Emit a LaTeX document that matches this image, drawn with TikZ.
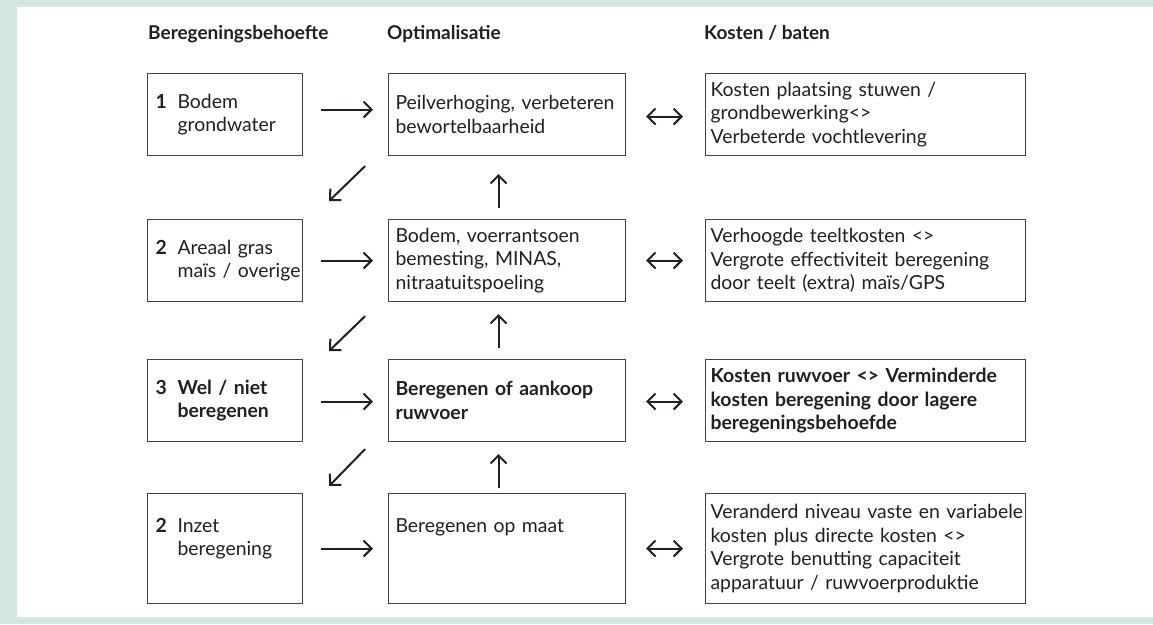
\documentclass[tikz,border=0pt]{standalone}
\usepackage{fontspec}
\setmainfont{Lato}
\usetikzlibrary{arrows.meta}
\definecolor{bordergreen}{RGB}{212,232,224}
\definecolor{ink}{RGB}{35,31,32}
\newcommand{\diafont}{\fontsize{19.4}{23.5}\selectfont}
\newcommand{\headfont}{\fontsize{19}{23.5}\selectfont\bfseries}
\newcommand{\numbox}[1]{\makebox[22pt][l]{\textbf{#1}}}
\begin{document}
\begin{tikzpicture}[x=1pt,y=-1pt,
  box/.style={draw=ink!85, line width=1.1pt, inner xsep=7pt, inner ysep=0pt,
    align=left, anchor=north west, font=\diafont, text=ink},
  lbox/.style={box, minimum width=155pt, minimum height=82pt, text width=139pt, inner xsep=8pt},
  mbox/.style={box, minimum width=237pt, minimum height=82pt, text width=223pt},
  rbox/.style={box, minimum width=320pt, minimum height=82pt, text width=310pt, inner xsep=5pt},
  head/.style={font=\headfont, text=ink, anchor=base west, inner sep=0pt},
  arr/.style={line width=2pt, draw=ink, -{Straight Barb[length=8pt,width=16pt]}},
  darr/.style={line width=2pt, draw=ink, {Straight Barb[length=8pt,width=16pt]}-{Straight Barb[length=8pt,width=16pt]}}
]
\useasboundingbox (0,0) rectangle (1153,624);
\fill[bordergreen] (0,0) rectangle (1153,624);
\fill[white] (17,7) rectangle (1153,617);

% headers
\node[head] (h1) at (148,39) {Beregeningsbehoefte};
\node[head] (h2) at (387,39) {Optimalisatie};
\node[head] (h3) at (704,39) {Kosten / baten};

% left column
\node[lbox] (l1) at (147,73) {\numbox{1}\mbox{Bodem}\\\hspace*{22pt}\mbox{grondwater}};
\node[lbox] (l2) at (147,219) {\numbox{2}\mbox{Areaal gras}\\\hspace*{22pt}\mbox{maïs / overige}};
\node[lbox, font=\diafont\bfseries] (l3) at (147,359) {\numbox{3}\mbox{Wel / niet}\\\hspace*{22pt}\mbox{beregenen}};
\node[lbox, minimum height=110pt] (l4) at (147,493) {\numbox{2}\mbox{Inzet}\\\hspace*{22pt}\mbox{beregening}\\\mbox{}};

% middle column
\node[mbox] (m1) at (388,73) {\mbox{Peilverhoging, verbeteren}\\\mbox{bewortelbaarheid}};
\node[mbox] (m2) at (388,219) {\mbox{Bodem, voerrantsoen}\\\mbox{bemesting, MINAS,}\\\mbox{nitraatuitspoeling}};
\node[mbox, font=\diafont\bfseries] (m3) at (388,359) {\mbox{Beregenen of aankoop}\\\mbox{ruwvoer}};
\node[mbox, minimum height=110pt] (m4) at (388,493) {\mbox{Beregenen op maat}\\\mbox{}\\\mbox{}};

% right column
\node[rbox] (r1) at (705,73) {\mbox{Kosten plaatsing stuwen /}\\\mbox{grondbewerking<>}\\\mbox{Verbeterde vochtlevering}};
\node[rbox] (r2) at (705,219) {\mbox{Verhoogde teeltkosten <>}\\\mbox{Vergrote effectiviteit beregening}\\\mbox{door teelt (extra) maïs/GPS}};
\node[rbox, font=\diafont\bfseries] (r3) at (705,359) {\mbox{Kosten ruwvoer <> Verminderde}\\\mbox{kosten beregening door lagere}\\\mbox{beregeningsbehoefde}};
\node[rbox, minimum height=110pt] (r4) at (705,493) {\mbox{Veranderd niveau vaste en variabele}\\\mbox{kosten plus directe kosten <>}\\\mbox{Vergrote benutting capaciteit}\\\mbox{apparatuur / ruwvoerproduktie}};

% right arrows
\draw[arr] ([xshift=18pt,yshift=5pt]l1.east) -- ([xshift=-15pt,yshift=5pt]m1.west);
\draw[arr] ([xshift=18pt]l2.east) -- ([xshift=-15pt]m2.west);
\draw[arr] ([xshift=18pt,yshift=-1pt]l3.east) -- ([xshift=-15pt,yshift=-1pt]m3.west);
\draw[arr] ([xshift=18pt]l4.east) -- ([xshift=-15pt]m4.west);

% double arrows
\draw[darr] ([xshift=20pt,yshift=-2pt]m1.east) -- ([xshift=-22pt,yshift=-2pt]r1.west);
\draw[darr] ([xshift=20pt]m2.east) -- ([xshift=-22pt]r2.west);
\draw[darr] ([xshift=20pt,yshift=-1pt]m3.east) -- ([xshift=-22pt,yshift=-1pt]r3.west);
\draw[darr] ([xshift=20pt]m4.east) -- ([xshift=-22pt]r4.west);

% up arrows
\draw[arr] ([xshift=-8.5pt,yshift=11pt]m2.north) -- ([xshift=-8.5pt,yshift=-18pt]m1.south);
\draw[arr] ([xshift=-8.5pt,yshift=11pt]m3.north) -- ([xshift=-8.5pt,yshift=-12pt]m2.south);
\draw[arr] ([xshift=-8.5pt,yshift=5pt]m4.north) -- ([xshift=-8.5pt,yshift=-12pt]m3.south);

% diagonal arrows
\draw[arr] ([xshift=62pt,yshift=-10pt]l1.south east) -- ([xshift=26pt,yshift=18pt]l2.north east);
\draw[arr] ([xshift=62pt,yshift=-14pt]l2.south east) -- ([xshift=26pt,yshift=8pt]l3.north east);
\draw[arr] ([xshift=62pt,yshift=-7pt]l3.south east) -- ([xshift=26pt,yshift=7pt]l4.north east);
\end{tikzpicture}
\end{document}
